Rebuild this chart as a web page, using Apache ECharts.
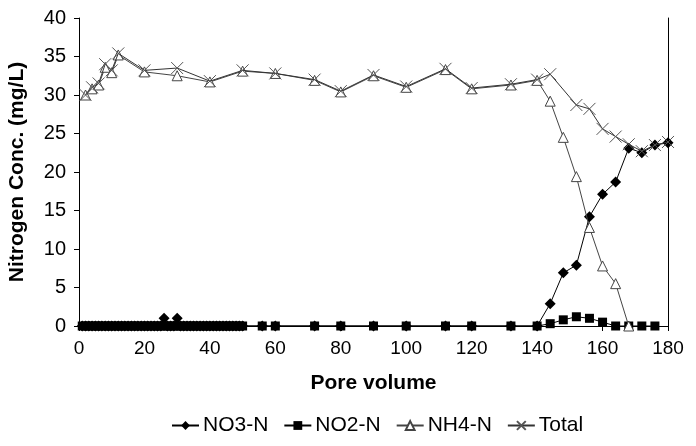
<!DOCTYPE html>
<html>
<head>
<meta charset="utf-8">
<script src="https://cdn.jsdelivr.net/npm/echarts@6/dist/echarts.min.js"></script>
<style>html,body{margin:0;padding:0;background:#fff}#c{width:696px;height:446px}</style>
</head>
<body>
<div id="c"></div>
<script>
// Pore volume positions
const pvNO3 = [1,2,3,4,5,6,7,8,9,10,11,12,13,14,15,16,17,18,19,20,21,22,23,24,25,26,27,28,29,30,31,32,33,34,35,36,37,38,39,40,41,42,43,44,45,46,47,48,49,50,
  56,60,72,80,90,100,112,120,132,140,144,148,152,156,160,164,168,172,176,180];
const no3 = [0,0,0,0,0,0,0,0,0,0,0,0,0,0,0,0,0,0,0,0,0,0,0,0,0,1.0,0,0,0,1.0,0,0,0,0,0,0,0,0,0,0,0,0,0,0,0,0,0,0,0,0,
  0,0,0,0,0,0,0,0,0,0,2.9,6.9,7.9,14.2,17.1,18.7,23.1,22.5,23.5,23.8];

const pvNO2 = [1,2,3,4,5,6,7,8,9,10,11,12,13,14,15,16,17,18,19,20,21,22,23,24,25,26,27,28,29,30,31,32,33,34,35,36,37,38,39,40,41,42,43,44,45,46,47,48,49,50,
  56,60,72,80,90,100,112,120,132,140,144,148,152,156,160,164,168,172,176];
const no2 = [0,0,0,0,0,0,0,0,0,0,0,0,0,0,0,0,0,0,0,0,0,0,0,0,0,0,0,0,0,0,0,0,0,0,0,0,0,0,0,0,0,0,0,0,0,0,0,0,0,0,
  0,0,0,0,0,0,0,0,0,0,0.3,0.8,1.2,1.0,0.5,0,0,0,0];

const pvNH4 = [2,4,6,8,10,12,20,30,40,50,60,72,80,90,100,112,120,132,140,144,148,152,156,160,164,168];
const nh4 = [30.0,30.8,31.3,33.6,32.9,35.2,33.0,32.5,31.7,33.1,32.8,31.9,30.4,32.5,31.0,33.3,30.8,31.3,31.9,29.2,24.5,19.4,12.8,7.8,5.5,0];

const pvTotal = [2,4,6,8,10,12,20,30,40,50,60,72,80,90,100,112,120,132,140,144,152,156,160,164,168,172,176,180];
const total = [30.0,31.0,31.5,34.0,33.2,35.4,33.2,33.5,31.8,33.2,32.8,32.0,30.5,32.6,31.1,33.4,30.9,31.4,32.0,32.7,28.7,28.2,25.6,24.6,23.6,22.7,23.5,23.9];

const xTicks = {min:0, max:180, interval:20};
const yTicks = {min:0, max:40, interval:5};
const seriesNames = ['NO3-N','NO2-N','NH4-N','Total'];

const pair = (xs, ys) => xs.map((x,i)=>[x, ys[i]]);
const FONT = 'Liberation Sans, Arial, sans-serif';

const chart = echarts.init(document.getElementById('c'), null, {renderer:'canvas'});
chart.setOption({
  animation:false,
  backgroundColor:'#fff',
  grid:{left:79, right:28, top:18, bottom:120, containLabel:false, outerBoundsMode:'none'},
  xAxis:{
    type:'value', min:xTicks.min, max:xTicks.max, interval:xTicks.interval,
    name:'Pore volume', nameLocation:'middle', nameGap:47,
    nameTextStyle:{fontFamily:FONT, fontSize:21, fontWeight:'bold', color:'#000'},
    axisLine:{onZero:false, lineStyle:{color:'#000', width:1}},
    axisTick:{show:true, inside:false, length:5, lineStyle:{color:'#000'}},
    axisLabel:{fontFamily:FONT, fontSize:19, color:'#000', margin:13},
    splitLine:{show:false}
  },
  yAxis:[{
    type:'value', min:yTicks.min, max:yTicks.max, interval:yTicks.interval,
    name:'Nitrogen Conc. (mg/L)', nameLocation:'middle', nameGap:51, nameRotate:90,
    nameTextStyle:{fontFamily:FONT, fontSize:21, fontWeight:'bold', color:'#000'},
    axisLine:{show:true, lineStyle:{color:'#000', width:1}},
    axisTick:{show:true, inside:false, length:5, lineStyle:{color:'#000'}},
    axisLabel:{fontFamily:FONT, fontSize:20, color:'#000', margin:13},
    splitLine:{show:false}
  },{
    type:'value', min:yTicks.min, max:yTicks.max, interval:yTicks.interval, position:'right',
    axisLine:{show:true, lineStyle:{color:'#000', width:1}},
    axisTick:{show:false}, axisLabel:{show:false}, splitLine:{show:false}
  }],
  legend:{
    data:seriesNames, left:166, top:410, itemWidth:27, itemHeight:11, itemGap:15,
    textStyle:{fontFamily:FONT, fontSize:21, color:'#000', padding:[0,0,0,-1]}
  },
  series:[
    {name:seriesNames[0], type:'line', data:pair(pvNO3,no3), showAllSymbol:true,
     symbol:'diamond', symbolSize:11, lineStyle:{color:'#000', width:1},
     itemStyle:{color:'#000', borderColor:'#000', borderWidth:0}, z:2},
    {name:seriesNames[1], type:'line', data:pair(pvNO2,no2), showAllSymbol:true,
     symbol:'rect', symbolSize:9, lineStyle:{color:'#000', width:1},
     itemStyle:{color:'#000', borderColor:'#000', borderWidth:0}, z:3},
    {name:seriesNames[2], type:'line', data:pair(pvNH4,nh4), showAllSymbol:true,
     symbol:'triangle', symbolSize:[10,10], lineStyle:{color:'#444', width:1},
     itemStyle:{color:'#fff', borderColor:'#444', borderWidth:1}, z:4},
    {name:seriesNames[3], type:'line', data:pair(pvTotal,total), showAllSymbol:true,
     symbol:'path://M0,0L10,10M10,0L0,10', symbolSize:12, lineStyle:{color:'#333', width:1},
     itemStyle:{color:'#555', borderColor:'#555', borderWidth:1}, z:5}
  ]
});
</script>
</body>
</html>
